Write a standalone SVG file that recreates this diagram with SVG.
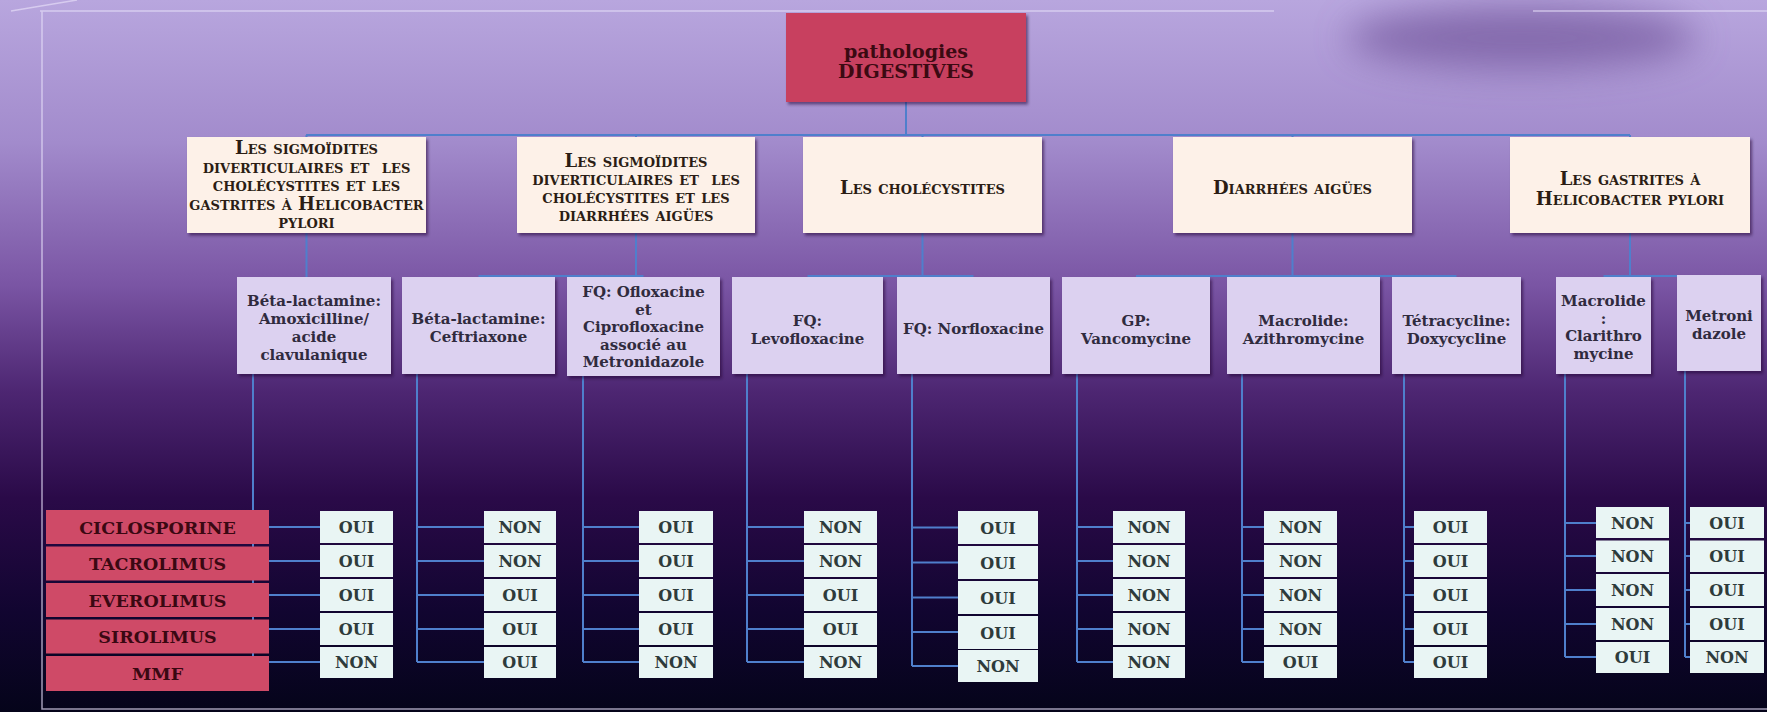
<svg xmlns="http://www.w3.org/2000/svg" width="1767" height="712" viewBox="0 0 1767 712">
<defs>
<linearGradient id="bg" x1="0" y1="0" x2="0" y2="1">
<stop offset="0" stop-color="#b8a6de"/>
<stop offset="0.2" stop-color="#a28bcc"/>
<stop offset="0.4" stop-color="#7a55a4"/>
<stop offset="0.55" stop-color="#4d2672"/>
<stop offset="0.7" stop-color="#2a0a48"/>
<stop offset="0.86" stop-color="#110530"/>
<stop offset="1" stop-color="#05041a"/>
</linearGradient>
<filter id="blur" x="-50%" y="-100%" width="200%" height="300%"><feGaussianBlur stdDeviation="18"/></filter>
<filter id="sh" x="-10%" y="-10%" width="125%" height="130%"><feDropShadow dx="2" dy="2.5" stdDeviation="1.5" flood-color="#1e0530" flood-opacity="0.55"/></filter>
<style>
.l2box{fill:#fdf1e8;filter:url(#sh)}
.l3box{fill:#dcd1f0;filter:url(#sh)}
.cell{fill:#e9f5f4}
.row{fill:#cf4a67}
.l2{font-family:"DejaVu Serif","Liberation Serif",serif;font-weight:bold;font-size:18px;font-variant:small-caps;fill:#2b1d14;text-anchor:middle}
.l3{font-family:"DejaVu Serif","Liberation Serif",serif;font-weight:bold;font-size:15px;fill:#302b3e;text-anchor:middle}
.v{font-family:"DejaVu Serif","Liberation Serif",serif;font-weight:bold;font-size:16px;fill:#2e3b3b;text-anchor:middle}
.r{font-family:"DejaVu Serif","Liberation Serif",serif;font-weight:bold;font-size:17.5px;fill:#3a0812;text-anchor:middle}
.t{font-family:"DejaVu Serif","Liberation Serif",serif;font-weight:bold;font-size:19px;fill:#3b0a12;text-anchor:middle}
.con{fill:none;stroke:#4f7fcc;stroke-width:2}
.frame{fill:none;stroke:#e4dcf6;stroke-opacity:0.7;stroke-width:1.5}
</style>
</defs>
<rect x="0" y="0" width="1767" height="712" fill="url(#bg)"/>
<ellipse cx="1522" cy="38" rx="175" ry="32" fill="#7d62a6" opacity="0.85" filter="url(#blur)"/>
<g id="frame" class="frame">
<path d="M40 11 H1274 M1533 11 H1767 M11 11 L77 0 M42 11 V709 H1767"/>
</g>

<g id="connectors" class="con">
<path d="M906 101 V135 M306 135 H1630 M306.5 135 V137 M636 135 V137 M922.5 135 V137 M1292.5 135 V137 M1630 135 V137"/>
<path d="M306.5 233 V277 M636 233 V276 M478.5 276 H643.5 M922.5 233 V276 M807.5 276 H973.5 M1292.5 233 V276 M1136 276 H1456.5 M1630 233 V276 M1603.5 276 H1719"/>
<path d="M253 374 V662 M253 527 H320 M253 561 H320 M253 595 H320 M253 629 H320 M253 662 H320"/>
<path d="M417 374 V662 M417 527 H484 M417 561 H484 M417 595 H484 M417 629 H484 M417 662 H484"/>
<path d="M583 376 V662 M583 527 H639 M583 561 H639 M583 595 H639 M583 629 H639 M583 662 H639"/>
<path d="M747 374 V662 M747 527 H804 M747 561 H804 M747 595 H804 M747 629 H804 M747 662 H804"/>
<path d="M912 374 V666 M912 527.5 H958 M912 562.5 H958 M912 597.5 H958 M912 632 H958 M912 666 H958"/>
<path d="M1077 374 V662 M1077 527 H1113 M1077 561 H1113 M1077 595 H1113 M1077 629 H1113 M1077 662 H1113"/>
<path d="M1242 374 V662 M1242 527 H1264 M1242 561 H1264 M1242 595 H1264 M1242 629 H1264 M1242 662 H1264"/>
<path d="M1404 374 V662 M1404 527 H1414 M1404 561 H1414 M1404 595 H1414 M1404 629 H1414 M1404 662 H1414"/>
<path d="M1565 374 V657 M1565 523 H1596 M1565 556 H1596 M1565 590 H1596 M1565 624 H1596 M1565 657 H1596"/>
<path d="M1685 371 V657 M1685 523 H1690 M1685 556 H1690 M1685 590 H1690 M1685 624 H1690 M1685 657 H1690"/>
</g>

<g id="root">
<rect x="786" y="13" width="240" height="89" fill="#c8415e" filter="url(#sh)"/>
<text class="t" x="906" y="58">pathologies</text>
<text class="t" x="906" y="78">DIGESTIVES</text>
</g>

<g id="cat1">
<rect class="l2box" x="187" y="137" width="239" height="96"/>
<text class="l2" x="306.5" y="154">Les sigmoïdites</text>
<text class="l2" x="306.5" y="172.5" style="white-space:pre">diverticulaires et  les</text>
<text class="l2" x="306.5" y="191">cholécystites et les</text>
<text class="l2" x="306.5" y="209.5">gastrites à Helicobacter</text>
<text class="l2" x="306.5" y="228">pylori</text>
</g>
<g id="cat2">
<rect class="l2box" x="517" y="137" width="238" height="96"/>
<text class="l2" x="636" y="167">Les sigmoïdites</text>
<text class="l2" x="636" y="185" style="white-space:pre">diverticulaires et  les</text>
<text class="l2" x="636" y="203">cholécystites et les</text>
<text class="l2" x="636" y="221">diarrhées aigües</text>
</g>
<g id="cat3">
<rect class="l2box" x="803" y="137" width="239" height="96"/>
<text class="l2" x="922.5" y="194">Les cholécystites</text>
</g>
<g id="cat4">
<rect class="l2box" x="1173" y="137" width="239" height="96"/>
<text class="l2" x="1292.5" y="194">Diarrhées aigües</text>
</g>
<g id="cat5">
<rect class="l2box" x="1510" y="137" width="240" height="96"/>
<text class="l2" x="1630" y="185">Les gastrites à</text>
<text class="l2" x="1630" y="205">Helicobacter pylori</text>
</g>

<g id="drug-a">
<rect class="l3box" x="237" y="277" width="154" height="97"/>
<text class="l3" x="314" y="306">Béta-lactamine:</text>
<text class="l3" x="314" y="324">Amoxicilline/</text>
<text class="l3" x="314" y="342">acide</text>
<text class="l3" x="314" y="360">clavulanique</text>
</g>
<g id="drug-b">
<rect class="l3box" x="402" y="277" width="153" height="97"/>
<text class="l3" x="478.5" y="324">Béta-lactamine:</text>
<text class="l3" x="478.5" y="342">Ceftriaxone</text>
</g>
<g id="drug-c">
<rect class="l3box" x="567" y="277" width="153" height="99"/>
<text class="l3" x="643.5" y="297">FQ: Ofloxacine</text>
<text class="l3" x="643.5" y="314.5">et</text>
<text class="l3" x="643.5" y="332">Ciprofloxacine</text>
<text class="l3" x="643.5" y="349.5">associé au</text>
<text class="l3" x="643.5" y="367">Metronidazole</text>
</g>
<g id="drug-d">
<rect class="l3box" x="732" y="277" width="151" height="97"/>
<text class="l3" x="807.5" y="326">FQ:</text>
<text class="l3" x="807.5" y="344">Levofloxacine</text>
</g>
<g id="drug-e">
<rect class="l3box" x="897" y="277" width="153" height="97"/>
<text class="l3" x="973.5" y="334">FQ: Norfloxacine</text>
</g>
<g id="drug-f">
<rect class="l3box" x="1062" y="277" width="148" height="97"/>
<text class="l3" x="1136" y="326">GP:</text>
<text class="l3" x="1136" y="344">Vancomycine</text>
</g>
<g id="drug-g">
<rect class="l3box" x="1227" y="277" width="153" height="97"/>
<text class="l3" x="1303.5" y="326">Macrolide:</text>
<text class="l3" x="1303.5" y="344">Azithromycine</text>
</g>
<g id="drug-h">
<rect class="l3box" x="1392" y="277" width="129" height="97"/>
<text class="l3" x="1456.5" y="326">Tétracycline:</text>
<text class="l3" x="1456.5" y="344">Doxycycline</text>
</g>
<g id="drug-i">
<rect class="l3box" x="1556" y="277" width="95" height="97"/>
<text class="l3" x="1603.5" y="306">Macrolide</text>
<text class="l3" x="1603.5" y="323.5">:</text>
<text class="l3" x="1603.5" y="341">Clarithro</text>
<text class="l3" x="1603.5" y="358.5">mycine</text>
</g>
<g id="drug-j">
<rect class="l3box" x="1677" y="275" width="84" height="96"/>
<text class="l3" x="1719" y="321">Metroni</text>
<text class="l3" x="1719" y="338.5">dazole</text>
</g>

<g id="immunosuppressors">
<rect class="row" x="46" y="510" width="223" height="34"/>
<rect class="row" x="46" y="546.5" width="223" height="34"/>
<rect class="row" x="46" y="583" width="223" height="34"/>
<rect class="row" x="46" y="619.5" width="223" height="34"/>
<rect class="row" x="46" y="656" width="223" height="35"/>
<text class="r" x="157.5" y="533.5">CICLOSPORINE</text>
<text class="r" x="157.5" y="570">TACROLIMUS</text>
<text class="r" x="157.5" y="606.5">EVEROLIMUS</text>
<text class="r" x="157.5" y="643">SIROLIMUS</text>
<text class="r" x="157.5" y="680">MMF</text>
</g>

<g id="col-a">
<rect class="cell" x="320" y="511" width="73" height="32"/><text class="v" x="356.5" y="533">OUI</text>
<rect class="cell" x="320" y="545" width="73" height="32"/><text class="v" x="356.5" y="567">OUI</text>
<rect class="cell" x="320" y="579" width="73" height="32"/><text class="v" x="356.5" y="601">OUI</text>
<rect class="cell" x="320" y="613" width="73" height="32"/><text class="v" x="356.5" y="635">OUI</text>
<rect class="cell" x="320" y="647" width="73" height="31"/><text class="v" x="356.5" y="668">NON</text>
</g>
<g id="col-b">
<rect class="cell" x="484" y="511" width="72" height="32"/><text class="v" x="520" y="533">NON</text>
<rect class="cell" x="484" y="545" width="72" height="32"/><text class="v" x="520" y="567">NON</text>
<rect class="cell" x="484" y="579" width="72" height="32"/><text class="v" x="520" y="601">OUI</text>
<rect class="cell" x="484" y="613" width="72" height="32"/><text class="v" x="520" y="635">OUI</text>
<rect class="cell" x="484" y="647" width="72" height="31"/><text class="v" x="520" y="668">OUI</text>
</g>
<g id="col-c">
<rect class="cell" x="639" y="511" width="74" height="32"/><text class="v" x="676" y="533">OUI</text>
<rect class="cell" x="639" y="545" width="74" height="32"/><text class="v" x="676" y="567">OUI</text>
<rect class="cell" x="639" y="579" width="74" height="32"/><text class="v" x="676" y="601">OUI</text>
<rect class="cell" x="639" y="613" width="74" height="32"/><text class="v" x="676" y="635">OUI</text>
<rect class="cell" x="639" y="647" width="74" height="31"/><text class="v" x="676" y="668">NON</text>
</g>
<g id="col-d">
<rect class="cell" x="804" y="511" width="73" height="32"/><text class="v" x="840.5" y="533">NON</text>
<rect class="cell" x="804" y="545" width="73" height="32"/><text class="v" x="840.5" y="567">NON</text>
<rect class="cell" x="804" y="579" width="73" height="32"/><text class="v" x="840.5" y="601">OUI</text>
<rect class="cell" x="804" y="613" width="73" height="32"/><text class="v" x="840.5" y="635">OUI</text>
<rect class="cell" x="804" y="647" width="73" height="31"/><text class="v" x="840.5" y="668">NON</text>
</g>
<g id="col-e">
<rect class="cell" x="958" y="511" width="80" height="33"/><text class="v" x="998" y="533.5">OUI</text>
<rect class="cell" x="958" y="546" width="80" height="33"/><text class="v" x="998" y="568.5">OUI</text>
<rect class="cell" x="958" y="581" width="80" height="33"/><text class="v" x="998" y="603.5">OUI</text>
<rect class="cell" x="958" y="616" width="80" height="33"/><text class="v" x="998" y="638.5">OUI</text>
<rect class="cell" x="958" y="650" width="80" height="32"/><text class="v" x="998" y="672">NON</text>
</g>
<g id="col-f">
<rect class="cell" x="1113" y="511" width="72" height="32"/><text class="v" x="1149" y="533">NON</text>
<rect class="cell" x="1113" y="545" width="72" height="32"/><text class="v" x="1149" y="567">NON</text>
<rect class="cell" x="1113" y="579" width="72" height="32"/><text class="v" x="1149" y="601">NON</text>
<rect class="cell" x="1113" y="613" width="72" height="32"/><text class="v" x="1149" y="635">NON</text>
<rect class="cell" x="1113" y="647" width="72" height="31"/><text class="v" x="1149" y="668">NON</text>
</g>
<g id="col-g">
<rect class="cell" x="1264" y="511" width="73" height="32"/><text class="v" x="1300.5" y="533">NON</text>
<rect class="cell" x="1264" y="545" width="73" height="32"/><text class="v" x="1300.5" y="567">NON</text>
<rect class="cell" x="1264" y="579" width="73" height="32"/><text class="v" x="1300.5" y="601">NON</text>
<rect class="cell" x="1264" y="613" width="73" height="32"/><text class="v" x="1300.5" y="635">NON</text>
<rect class="cell" x="1264" y="647" width="73" height="31"/><text class="v" x="1300.5" y="668">OUI</text>
</g>
<g id="col-h">
<rect class="cell" x="1414" y="511" width="73" height="32"/><text class="v" x="1450.5" y="533">OUI</text>
<rect class="cell" x="1414" y="545" width="73" height="32"/><text class="v" x="1450.5" y="567">OUI</text>
<rect class="cell" x="1414" y="579" width="73" height="32"/><text class="v" x="1450.5" y="601">OUI</text>
<rect class="cell" x="1414" y="613" width="73" height="32"/><text class="v" x="1450.5" y="635">OUI</text>
<rect class="cell" x="1414" y="647" width="73" height="31"/><text class="v" x="1450.5" y="668">OUI</text>
</g>
<g id="col-i">
<rect class="cell" x="1596" y="507" width="73" height="31"/><text class="v" x="1632.5" y="528.5">NON</text>
<rect class="cell" x="1596" y="540.5" width="73" height="31.5"/><text class="v" x="1632.5" y="562">NON</text>
<rect class="cell" x="1596" y="574" width="73" height="32"/><text class="v" x="1632.5" y="596">NON</text>
<rect class="cell" x="1596" y="608" width="73" height="32"/><text class="v" x="1632.5" y="630">NON</text>
<rect class="cell" x="1596" y="642" width="73" height="31"/><text class="v" x="1632.5" y="663">OUI</text>
</g>
<g id="col-j">
<rect class="cell" x="1690" y="507" width="74" height="31"/><text class="v" x="1727" y="528.5">OUI</text>
<rect class="cell" x="1690" y="540.5" width="74" height="31.5"/><text class="v" x="1727" y="562">OUI</text>
<rect class="cell" x="1690" y="574" width="74" height="32"/><text class="v" x="1727" y="596">OUI</text>
<rect class="cell" x="1690" y="608" width="74" height="32"/><text class="v" x="1727" y="630">OUI</text>
<rect class="cell" x="1690" y="642" width="74" height="31"/><text class="v" x="1727" y="663">NON</text>
</g>
</svg>
